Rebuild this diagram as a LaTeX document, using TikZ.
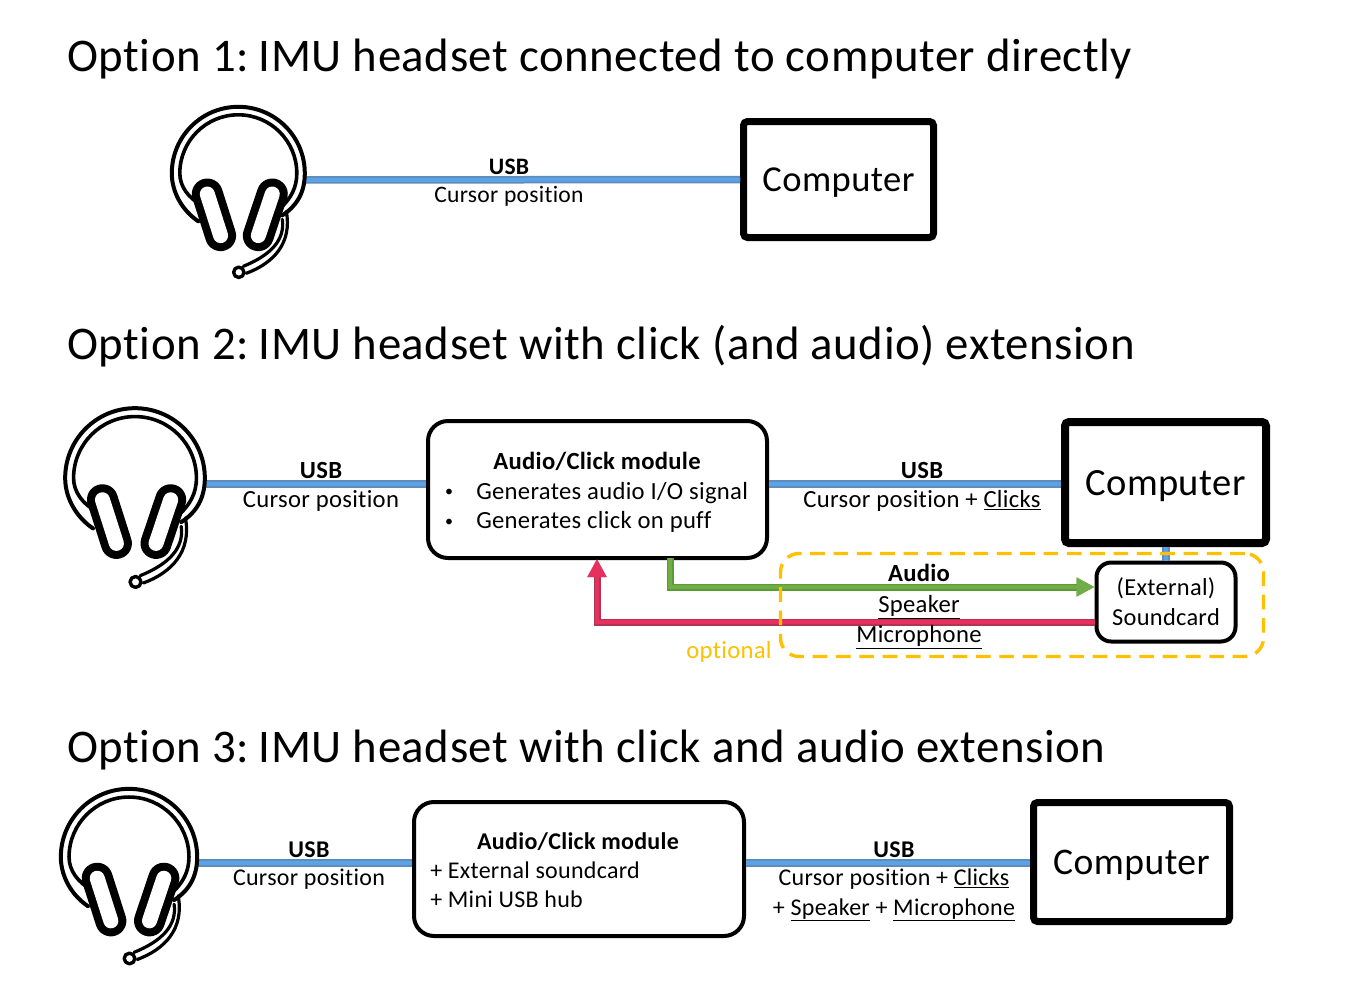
\documentclass[tikz,border=0pt]{standalone}
\usepackage{fontspec}
\setmainfont{Carlito}[LetterSpace=1.2,Ligatures=NoCommon]
\usetikzlibrary{arrows.meta,calc}
\definecolor{bluel}{HTML}{5BA3E6}
\definecolor{blued}{HTML}{5F8DBB}
\definecolor{greenl}{HTML}{70AD47}
\definecolor{greend}{HTML}{5C9A38}
\definecolor{redl}{HTML}{E8305F}
\definecolor{redd}{HTML}{B03555}
\definecolor{gold}{HTML}{FFC000}
\newcommand{\fs}[1]{\fontsize{#1}{#1}\selectfont}
\newcommand{\ul}[1]{\underline{#1}}
\tikzset{
  x=0.75pt,y=-0.75pt,
  px/.style={line width=#1*0.75pt},
  title/.style={anchor=base west,inner sep=0pt,font=\fs{35.1}},
  computerbox/.style={draw=black,rounded corners=3pt,inner sep=0pt,align=center,text depth=0pt},
  modulebox/.style={draw=black,px=4,rounded corners=15pt,inner sep=0pt},
  lab/.style={inner sep=0pt,anchor=base,font=\fs{#1}},
  labl/.style={inner sep=0pt,anchor=base west,font=\fs{#1}},
  usblink/.style={bluel,px=4,preaction={draw=blued,px=7.5}},
  greenlink/.style={greenl,px=4,preaction={draw=greend,px=7},-{Triangle[length=13.5pt,width=13.5pt]}},
  redlink/.style={redl,px=4,preaction={draw=redd,px=7},-{Triangle[length=13.5pt,width=13.5pt]}},
  pics/headset/.style={code={
    \begin{scope}[line cap=round,line join=round]
      \draw[px=4] (-40,48) .. controls (-55,38) and (-66.5,20) .. (-66.5,0)
         arc[start angle=180,end angle=360,radius=66.5] .. controls (66.5,20) and (58,33) .. (44,42);
      \draw[px=3.6] (-36,32) .. controls (-50,25) and (-58.5,13) .. (-58.5,0)
         arc[start angle=180,end angle=360,radius=58.5] .. controls (58.5,15) and (52,25) .. (44,33);
      \draw[px=3.2] (48,38) .. controls (54,70) and (35,90) .. (8,100);
      \draw[px=3.2] (44,46) .. controls (47,67) and (32,82) .. (5,93);
      \draw[px=3.4,fill=white] (0.5,99) circle[radius=5.2];
      \draw[px=31,black] (-31,20.7) -- (-17.7,62.3);
      \draw[px=15,white] (-31,20.7) -- (-17.7,62.3);
      \draw[px=31,black] (34,20.7) -- (20,62.3);
      \draw[px=15,white] (34,20.7) -- (20,62.3);
    \end{scope}
  }}
}
\begin{document}
\begin{tikzpicture}
\useasboundingbox (0,0) rectangle (1354,992);
\fill[white] (0,0) rectangle (1354,992);
% titles
\node[title] (t1) at (67,71) {Option 1:\kern-1pt\ IMU headset connected to computer directly};
\node[title] (t2) at (67,359) {Option 2:\kern-1pt\ IMU headset with click (and audio) extension};
\node[title] (t3) at (67,762) {Option 3:\kern-1pt\ IMU headset with click and audio extension};
% boxes
\node[computerbox,px=7,minimum width=190*0.75pt,minimum height=116*0.75pt,font=\fs{27.4},text height=18pt] (comp1) at (838.5,179.5) {Computer};
\node[computerbox,px=8,minimum width=201*0.75pt,minimum height=121*0.75pt,font=\fs{28.9},text height=20pt] (comp2) at (1165.5,482.5) {Computer};
\node[computerbox,px=7,minimum width=196*0.75pt,minimum height=119*0.75pt,font=\fs{28.2},text height=19pt] (comp3) at (1131.5,862) {Computer};
\node[modulebox,minimum width=339*0.75pt,minimum height=137*0.75pt] (mod2) at (597.5,489.5) {};
\node[modulebox,minimum width=330*0.75pt,minimum height=134*0.75pt] (mod3) at (579,869) {};
\node[modulebox,rounded corners=11pt,minimum width=139*0.75pt,minimum height=79*0.75pt] (sound) at (1166,602) {};
% headset anchors
\coordinate (hs1) at (238.3,173.3);
\coordinate (hs2) at (135,478);
\coordinate (hs3) at (129,857);
\coordinate (port1) at (305,180);
\coordinate (port2) at (205,484);
\coordinate (port3) at (197,863);
% connectors
\draw[usblink] (port1) -- (comp1.west);
\draw[usblink] (port2) -- (mod2.west |- port2);
\coordinate (m2r) at (mod2.east |- port2);
\draw[usblink] (m2r) -- (comp2.west |- m2r);
\draw[usblink] (port3) -- (mod3.west |- port3);
\coordinate (m3r) at (mod3.east |- port3);
\draw[usblink] (m3r) -- (comp3.west |- m3r);
\draw[usblink] (comp2.south -| sound.north) -- (sound.north);
\coordinate (gs) at (670,558);
\coordinate (gy) at (1000,587);
\draw[greenlink] (gs) |- (sound.west |- gy);
\coordinate (ry) at (1000,622);
\coordinate (rt) at (597,559);
\draw[redlink] (sound.west |- ry) -| (rt);
% optional frame
\node[draw=gold,px=3.4,dash pattern=on 11pt off 6.5pt,rounded corners=14pt,minimum width=483*0.75pt,minimum height=103*0.75pt,inner sep=0pt] (opt) at (1022,605) {};
% headsets
\pic at (hs1) {headset};
\pic[scale=1.05] at (hs2) {headset};
\pic[scale=1.025] at (hs3) {headset};
% labels
\node[lab=17.7,font=\fs{17.7}\bfseries] (l1) at (509,174) {USB};
\node[lab=17.7] (l2) at (509,202) {Cursor position};
\node[lab=18.5,font=\fs{18.5}\bfseries] (l3) at (321,478) {USB};
\node[lab=18.5] (l4) at (321,507) {Cursor position};
\node[lab=18.5,font=\fs{18.5}\bfseries] (l5) at (597,469) {Audio/Click module};
\node[lab=12] (b1) at (449,496) {•};
\node[lab=12] (b2) at (449,526) {•};
\node[labl=18.5] (l6) at (476,499) {Generates audio I/O signal};
\node[labl=18.5] (l7) at (476,528) {Generates click on puff};
\node[lab=18.5,font=\fs{18.5}\bfseries] (l8) at (922,478) {USB};
\node[lab=18.5] (l9) at (922,507) {Cursor position + \ul{Clicks}};
\node[lab=18.5,font=\fs{18.5}\bfseries] (l10) at (919,581) {Audio};
\node[lab=18.5] (l11) at (919,612) {\ul{Speaker}};
\node[lab=18.5] (l12) at (919,642) {\ul{Microphone}};
\node[lab=18.5,text=gold] (l13) at (729,658) {optional};
\node[lab=18.3] (l14) at (1166,595) {(External)};
\node[lab=18.3] (l15) at (1166,625) {Soundcard};
\node[lab=18,font=\fs{18}\bfseries] (l16) at (309,857) {USB};
\node[lab=18] (l17) at (309,885) {Cursor position};
\node[lab=18,font=\fs{18}\bfseries] (l18) at (578,849) {Audio/Click module};
\node[labl=18] (l19) at (430,878) {+ External soundcard};
\node[labl=18] (l20) at (430,907) {+ Mini USB hub};
\node[lab=18,font=\fs{18}\bfseries] (l21) at (894,857) {USB};
\node[lab=18] (l22) at (894,885) {Cursor position + \ul{Clicks}};
\node[lab=18] (l23) at (894,915) {+ \ul{Speaker} + \ul{Microphone}};
\end{tikzpicture}
\end{document}
